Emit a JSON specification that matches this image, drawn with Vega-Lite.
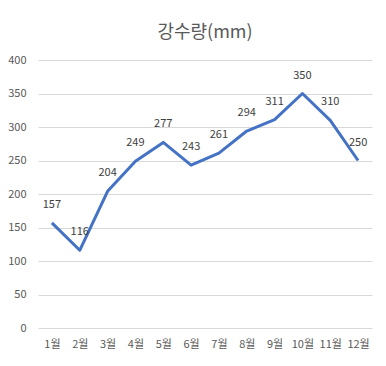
{
  "$schema": "https://vega.github.io/schema/vega-lite/v6.json",
  "width": 334,
  "height": 268,
  "autosize": {"type": "none"},
  "padding": {"left": 38, "top": 60, "right": 14, "bottom": 38},
  "background": "white",
  "title": {"text": "강수량(mm)", "fontSize": 18, "font": "Noto Sans CJK KR", "fontWeight": "normal", "color": "#595959", "offset": 12, "anchor": "middle"},
  "config": {"view": {"stroke": null}, "font": "Noto Sans CJK KR"},
  "data": {"values": [
    {"month": "1월", "v": 157}, {"month": "2월", "v": 116}, {"month": "3월", "v": 204},
    {"month": "4월", "v": 249}, {"month": "5월", "v": 277}, {"month": "6월", "v": 243},
    {"month": "7월", "v": 261}, {"month": "8월", "v": 294}, {"month": "9월", "v": 311},
    {"month": "10월", "v": 350}, {"month": "11월", "v": 310}, {"month": "12월", "v": 250}
  ]},
  "encoding": {
    "x": {"field": "month", "type": "ordinal", "sort": null, "scale": {"type": "point", "padding": 0.5},
      "axis": {"title": null, "labelAngle": 0, "domain": false, "ticks": false, "labelPadding": 10, "labelFontSize": 11, "labelColor": "#595959", "grid": false}},
    "y": {"field": "v", "type": "quantitative", "scale": {"domain": [0, 400]},
      "axis": {"title": null, "values": [0,50,100,150,200,250,300,350,400], "domain": false, "ticks": false, "labelPadding": 12, "labelFontSize": 11, "labelColor": "#595959", "gridColor": "#d9d9d9", "gridWidth": 1}}
  },
  "layer": [
    {"mark": {"type": "line", "color": "#4472C4", "strokeWidth": 3, "strokeJoin": "round"}},
    {"mark": {"type": "text", "baseline": "middle", "dy": -18, "fontSize": 11, "color": "#404040"}, "encoding": {"text": {"field": "v", "type": "quantitative"}}}
  ]
}
